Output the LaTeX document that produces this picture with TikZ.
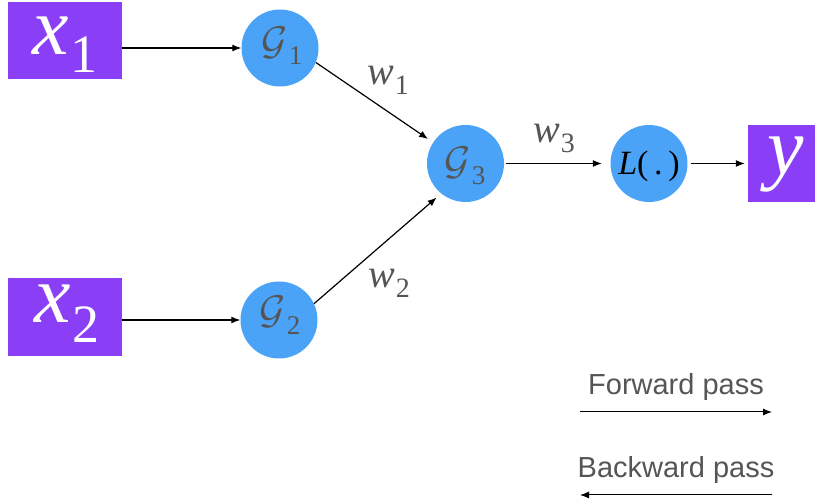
\RequirePackage{fix-cm}
\documentclass[tikz,border=0pt]{standalone}
\usepackage{fontspec}
\setmainfont{Liberation Serif}
\newfontfamily\legendfont{Liberation Sans}
\usetikzlibrary{arrows.meta}
\definecolor{boxpurple}{HTML}{8A3FF7}
\definecolor{nodeblue}{HTML}{4AA3F7}
\definecolor{labelgray}{HTML}{555555}
% base symbol, subscript, base size, subscript size, drop
\newcommand\symsub[5]{{\fontsize{#3}{#3}\selectfont #1}\kern1pt\raisebox{-#5}{\fontsize{#4}{#4}\selectfont #2}}
\begin{document}
\begin{tikzpicture}[x=1pt,y=-1pt,
  inbox/.style={fill=boxpurple, draw=none, minimum width=114pt, minimum height=77pt, inner sep=0pt},
  gnode/.style={circle, fill=nodeblue, draw=none, minimum size=77pt, inner sep=0pt},
  symtext/.style={anchor=base, inner sep=0pt},
  conn/.style={-{Latex[length=9pt,width=7pt]}, line width=1.2pt, black},
  legtext/.style={anchor=base, inner sep=0pt, text=labelgray, font=\legendfont\fontsize{29}{29}\selectfont}]
\useasboundingbox (0,0) rectangle (815,502);
% boxes and circles
\node[inbox] (x1) at (64.5,41) {};
\node[inbox, minimum height=78pt] (x2) at (64.5,317) {};
\node[inbox, minimum width=67pt] (yb) at (781.5,163.5) {};
\node[gnode] (G1) at (280,48) {};
\node[gnode] (G2) at (279,320) {};
\node[gnode] (G3) at (465.5,163.5) {};
\node[gnode] (L) at (649,163.5) {};
% texts
\node[symtext, text=white] (x1t) at (65,55) {\symsub{\itshape x}{1}{82pt}{54pt}{18pt}};
\node[symtext, text=white] (x2t) at (67,323) {\symsub{\itshape x}{2}{82pt}{54pt}{20pt}};
\node[symtext, text=white, font=\fontsize{82}{82}\selectfont\itshape] (yt) at (786,175) {y};
\node[symtext, text=labelgray] (G1t) at (282,55) {\symsub{$\mathcal{G}$}{1}{40pt}{27pt}{10pt}};
\node[symtext, text=labelgray] (G2t) at (280,324) {\symsub{$\mathcal{G}$}{2}{40pt}{27pt}{11pt}};
\node[symtext, text=labelgray] (G3t) at (465,175) {\symsub{$\mathcal{G}$}{3}{40pt}{27pt}{10pt}};
\node[symtext, text=black, font=\fontsize{34}{34}\selectfont] (Lt) at (649,175) {\textit{L}(\,.\,)};
\node[symtext, text=labelgray] (w1) at (388,85) {\symsub{\itshape w}{1}{40pt}{28pt}{10pt}};
\node[symtext, text=labelgray] (w2) at (389,288) {\symsub{\itshape w}{2}{40pt}{28pt}{10pt}};
\node[symtext, text=labelgray] (w3) at (554,143) {\symsub{\itshape w}{3}{40pt}{28pt}{10pt}};
% connectors
\draw[conn] (x1.east |- G1.west) -- (G1.west);
\draw[conn] (x2.east |- G2.west) -- (G2.west);
\draw[conn, shorten >=6pt] (G1.338) -- (G3.147);
\draw[conn, shorten >=6pt] (G2.25) -- (G3.231);
\draw[conn, shorten <=1.5pt, shorten >=8.5pt] (G3.east) -- (L.west);
\draw[conn, shorten <=3pt, shorten >=3pt] (L.east) -- (yb.west);
% legend
\node[legtext] (fwd) at (676,395) {Forward pass};
\node[legtext] (bwd) at (676,478) {Backward pass};
\coordinate (fS) at (580,412);
\coordinate (fE) at (772,412);
\coordinate (bS) at (772,495);
\coordinate (bE) at (580,495);
\draw[conn, line width=1pt] (fS) -- (fE);
\draw[conn, line width=1pt] (bS) -- (bE);
\end{tikzpicture}
\end{document}
